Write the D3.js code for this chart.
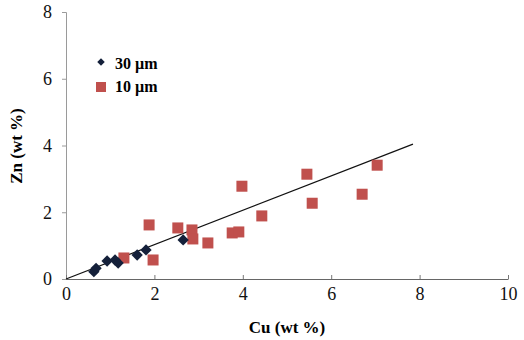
<!DOCTYPE html>
<html>
<head>
<meta charset="utf-8">
<script src="https://cdn.jsdelivr.net/npm/d3@7"></script>
<style>
	body { margin: 0; background: #fff; }
	text { font-family: "Liberation Serif", "Times New Roman", serif; }
</style>
</head>
<body>
<svg id="chart" width="524" height="340"></svg>
<script>
// data
const cu30 = [0.63, 0.68, 0.93, 1.11, 1.18, 1.61, 1.81, 2.65];
const zn30 = [0.22, 0.32, 0.54, 0.57, 0.48, 0.72, 0.87, 1.17];
const cu10 = [1.31, 1.88, 1.97, 2.53, 2.85, 2.87, 3.21, 3.76, 3.91, 3.98, 4.43, 5.45, 5.57, 6.70, 7.04];
const zn10 = [0.63, 1.62, 0.57, 1.53, 1.47, 1.20, 1.08, 1.38, 1.41, 2.78, 1.89, 3.14, 2.27, 2.54, 3.41];
const trend = [[0, 0], [7.85, 4.04]];
const xTicks = [0, 2, 4, 6, 8, 10];
const yTicks = [0, 2, 4, 6, 8];
const seriesNames = ["30 µm", "10 µm"];

const svg = d3.select("#chart");

const x = d3.scaleLinear().domain([0, 10]).range([66, 508]);
const y = d3.scaleLinear().domain([0, 8]).range([279, 12]);

// y axis
const yAxis = svg.append("g")
	.attr("transform", "translate(66,0)")
	.call(d3.axisLeft(y).tickValues(yTicks).tickSize(4).tickPadding(10));
yAxis.select(".domain").attr("stroke", "#9a9a9a");
yAxis.selectAll(".tick line").attr("stroke", "#9a9a9a");
yAxis.selectAll("text").attr("font-size", 18).attr("fill", "#111")
	.style("font-family", "Liberation Serif");

// x axis, ticks point up
const xAxis = svg.append("g")
	.attr("transform", "translate(0,279)")
	.call(d3.axisBottom(x).tickValues(xTicks).tickSizeInner(-4).tickSizeOuter(0).tickPadding(8));
xAxis.select(".domain").attr("stroke", "#666");
xAxis.selectAll(".tick line").attr("stroke", "#777");
xAxis.selectAll("text").attr("font-size", 18).attr("fill", "#111")
	.style("font-family", "Liberation Serif");

// axis titles
svg.append("text")
	.attr("x", 287).attr("y", 333)
	.attr("text-anchor", "middle")
	.attr("font-size", 17).attr("font-weight", "bold")
	.text("Cu (wt %)");

svg.append("text")
	.attr("transform", "translate(22,146) rotate(-90)")
	.attr("text-anchor", "middle")
	.attr("font-size", 17).attr("font-weight", "bold")
	.text("Zn (wt %)");

// trend line
svg.append("line")
	.attr("x1", x(trend[0][0])).attr("y1", y(trend[0][1]))
	.attr("x2", x(trend[1][0])).attr("y2", y(trend[1][1]))
	.attr("stroke", "#111").attr("stroke-width", 1.2);

// 10 um squares
const sq = 11;
svg.selectAll("rect.p10")
	.data(cu10.map((d, i) => [d, zn10[i]]))
	.enter()
	.append("rect")
	.attr("class", "p10")
	.attr("x", d => x(d[0]) - sq / 2)
	.attr("y", d => y(d[1]) - sq / 2)
	.attr("width", sq).attr("height", sq)
	.attr("fill", "#c0504d");

// 30 um diamonds
const diamond = d3.symbol().type(d3.symbolSquare).size(64);
svg.selectAll("path.p30")
	.data(cu30.map((d, i) => [d, zn30[i]]))
	.enter()
	.append("path")
	.attr("class", "p30")
	.attr("d", diamond)
	.attr("transform", d => "translate(" + x(d[0]) + "," + y(d[1]) + ") rotate(45)")
	.attr("fill", "#14203a");

// legend
const leg = svg.append("g");
leg.append("path")
	.attr("d", d3.symbol().type(d3.symbolSquare).size(28))
	.attr("transform", "translate(101,62) rotate(45)")
	.attr("fill", "#14203a");
leg.append("rect")
	.attr("x", 96).attr("y", 82).attr("width", 10).attr("height", 10)
	.attr("fill", "#c0504d");
leg.selectAll("text")
	.data(seriesNames)
	.enter()
	.append("text")
	.attr("x", 115)
	.attr("y", (d, i) => 69 + i * 23)
	.attr("font-size", 16).attr("font-weight", "bold")
	.text(d => d);
</script>
</body>
</html>
